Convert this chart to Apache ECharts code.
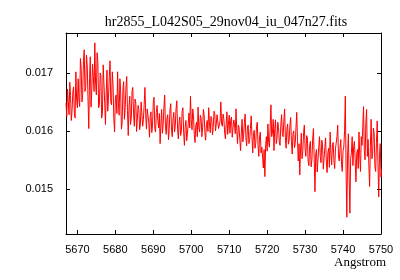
<!DOCTYPE html>
<html lang="en">
<head>
    <meta charset="UTF-8">
    <script src="https://cdn.jsdelivr.net/npm/echarts@6/dist/echarts.min.js"></script>
    <title>spectrum</title>
    <style>
        html, body { margin: 0; padding: 0; background: #fff; }
    </style>
</head>
<body>
<div id="main" style="width: 400px;height: 280px;"></div>
</body>
</html>
<script>
    var chartTitle = 'hr2855_L042S05_29nov04_iu_047n27.fits';
    var xName = 'Angstrom';

    // spectrum sampled every 0.2 A starting at 5667.0
    var wlStart = 5667.0;
    var wlStep = 0.2;
    var flux = [
        0.01648, 0.01625, 0.01672, 0.01651, 0.01628, 0.01684, 0.01661, 0.01618, 0.01635, 0.01667, 0.01676, 0.01631, 0.01622, 0.01702, 0.01655, 0.01640, 0.01690, 0.01655, 0.01642, 0.01725,
        0.01708, 0.01650, 0.01663, 0.01722, 0.01740, 0.01668, 0.01676, 0.01731, 0.01712, 0.01655, 0.01604, 0.01690, 0.01728, 0.01641, 0.01672, 0.01715, 0.01694, 0.01668, 0.01752, 0.01680,
        0.01662, 0.01735, 0.01718, 0.01640, 0.01645, 0.01700, 0.01696, 0.01622, 0.01630, 0.01714, 0.01682, 0.01648, 0.01611, 0.01668, 0.01705, 0.01634, 0.01658, 0.01692, 0.01721, 0.01650,
        0.01645, 0.01702, 0.01680, 0.01621, 0.01598, 0.01655, 0.01662, 0.01630, 0.01702, 0.01648, 0.01627, 0.01690, 0.01669, 0.01603, 0.01614, 0.01672, 0.01685, 0.01620, 0.01640, 0.01676,
        0.01694, 0.01635, 0.01592, 0.01642, 0.01660, 0.01611, 0.01622, 0.01668, 0.01675, 0.01630, 0.01608, 0.01655, 0.01648, 0.01599, 0.01596, 0.01644, 0.01637, 0.01602, 0.01612, 0.01650,
        0.01652, 0.01608, 0.01620, 0.01646, 0.01675, 0.01628, 0.01603, 0.01638, 0.01641, 0.01615, 0.01589, 0.01626, 0.01633, 0.01597, 0.01610, 0.01649, 0.01658, 0.01604, 0.01598, 0.01632,
        0.01644, 0.01618, 0.01605, 0.01630, 0.01578, 0.01612, 0.01637, 0.01596, 0.01612, 0.01641, 0.01662, 0.01608, 0.01594, 0.01622, 0.01628, 0.01585, 0.01603, 0.01636, 0.01647, 0.01601,
        0.01590, 0.01621, 0.01632, 0.01598, 0.01609, 0.01638, 0.01652, 0.01603, 0.01586, 0.01615, 0.01624, 0.01592, 0.01600, 0.01633, 0.01640, 0.01598, 0.01575, 0.01606, 0.01618, 0.01583,
        0.01596, 0.01612, 0.01631, 0.01605, 0.01660, 0.01619, 0.01602, 0.01638, 0.01626, 0.01594, 0.01580, 0.01609, 0.01615, 0.01590, 0.01641, 0.01606, 0.01598, 0.01627, 0.01622, 0.01590,
        0.01605, 0.01637, 0.01628, 0.01596, 0.01584, 0.01611, 0.01618, 0.01599, 0.01640, 0.01614, 0.01597, 0.01625, 0.01621, 0.01593, 0.01606, 0.01634, 0.01630, 0.01600, 0.01612, 0.01628,
        0.01625, 0.01604, 0.01601, 0.01617, 0.01650, 0.01612, 0.01608, 0.01629, 0.01620, 0.01598, 0.01586, 0.01612, 0.01633, 0.01594, 0.01611, 0.01627, 0.01596, 0.01618, 0.01624, 0.01589,
        0.01590, 0.01619, 0.01612, 0.01595, 0.01638, 0.01601, 0.01578, 0.01610, 0.01606, 0.01585, 0.01566, 0.01598, 0.01620, 0.01581, 0.01593, 0.01614, 0.01629, 0.01588, 0.01574, 0.01605,
        0.01610, 0.01578, 0.01585, 0.01604, 0.01626, 0.01590, 0.01562, 0.01596, 0.01601, 0.01570, 0.01579, 0.01608, 0.01615, 0.01575, 0.01556, 0.01590, 0.01598, 0.01562, 0.01572, 0.01555,
        0.01536, 0.01568, 0.01521, 0.01574, 0.01590, 0.01565, 0.01612, 0.01580, 0.01572, 0.01608, 0.01645, 0.01590, 0.01598, 0.01620, 0.01566, 0.01604, 0.01619, 0.01578, 0.01587, 0.01615,
        0.01606, 0.01581, 0.01575, 0.01610, 0.01628, 0.01596, 0.01590, 0.01617, 0.01638, 0.01588, 0.01570, 0.01603, 0.01612, 0.01577, 0.01584, 0.01609, 0.01623, 0.01582, 0.01560, 0.01594,
        0.01600, 0.01571, 0.01578, 0.01606, 0.01632, 0.01583, 0.01548, 0.01578, 0.01524, 0.01567, 0.01596, 0.01552, 0.01565, 0.01597, 0.01610, 0.01569, 0.01556, 0.01592, 0.01588, 0.01548,
        0.01540, 0.01575, 0.01582, 0.01538, 0.01550, 0.01586, 0.01604, 0.01552, 0.01495, 0.01560, 0.01568, 0.01529, 0.01530, 0.01572, 0.01590, 0.01556, 0.01545, 0.01584, 0.01576, 0.01534,
        0.01552, 0.01571, 0.01588, 0.01546, 0.01528, 0.01562, 0.01570, 0.01537, 0.01598, 0.01560, 0.01541, 0.01576, 0.01580, 0.01548, 0.01535, 0.01569, 0.01566, 0.01590, 0.01610, 0.01555,
        0.01548, 0.01570, 0.01585, 0.01542, 0.01530, 0.01566, 0.01572, 0.01600, 0.01660, 0.01530, 0.01451, 0.01560, 0.01595, 0.01520, 0.01458, 0.01552, 0.01562, 0.01590, 0.01540, 0.01573,
        0.01582, 0.01548, 0.01512, 0.01560, 0.01568, 0.01535, 0.01598, 0.01557, 0.01530, 0.01590, 0.01575, 0.01608, 0.01642, 0.01566, 0.01550, 0.01612, 0.01637, 0.01556, 0.01585, 0.01541,
        0.01504, 0.01573, 0.01620, 0.01552, 0.01560, 0.01605, 0.01596, 0.01538, 0.01530, 0.01580, 0.01617, 0.01545, 0.01486, 0.01558, 0.01578, 0.01520, 0.01535
    ];

    var xTicks = [5670, 5680, 5690, 5700, 5710, 5720, 5730, 5740, 5750];
    var yTicks = [0.015, 0.016, 0.017];
    var xMin = 5667, xMax = 5750;
    var yMin = 0.01422, yMax = 0.01769;

    var points = [];
    for (var i = 0; i < flux.length; i++) {
        points.push([wlStart + i * wlStep, flux[i]]);
    }

    var myChart = echarts.init(document.getElementById('main'));

    var labelFont = {color: '#000', fontFamily: 'Liberation Sans', fontSize: 11};
    var frame = {show: true, onZero: false, lineStyle: {color: '#000', width: 1}};

    function xAxisOf(pos, showLabel) {
        return {
            type: 'value', position: pos, min: xMin, max: xMax,
            axisLine: frame,
            axisTick: {show: true, inside: true, length: 4, customValues: xTicks, lineStyle: {color: '#000'}},
            axisLabel: Object.assign({show: showLabel, margin: 10, customValues: xTicks,
                formatter: function (v) { return String(v); }}, labelFont),
            splitLine: {show: false}
        };
    }

    function yAxisOf(pos, showLabel) {
        return {
            type: 'value', position: pos, min: yMin, max: yMax,
            axisLine: frame,
            axisTick: {show: true, inside: true, length: 4, customValues: yTicks, lineStyle: {color: '#000'}},
            axisLabel: Object.assign({show: showLabel, margin: 13, customValues: yTicks,
                formatter: function (v) { return v.toFixed(3); }}, labelFont),
            splitLine: {show: false}
        };
    }

    var option = {
        animation: false,
        title: {
            text: chartTitle,
            left: 221, top: 10, textAlign: 'center',
            textStyle: {color: '#000', fontFamily: 'Liberation Serif', fontSize: 14, fontWeight: 'normal'}
        },
        grid: {left: 66, top: 33, right: 19, bottom: 46},
        xAxis: [xAxisOf('bottom', true), xAxisOf('top', false)],
        yAxis: [yAxisOf('left', true), yAxisOf('right', false)],
        graphic: [{
            type: 'text', right: 14, top: 256,
            style: {text: xName, fill: '#000', font: '13px "Liberation Serif"'}
        }],
        series: [{
            type: 'line',
            xAxisIndex: 0, yAxisIndex: 0,
            data: points,
            showSymbol: false,
            clip: true,
            lineStyle: {color: '#ff0000', width: 1}
        }]
    };

    myChart.setOption(option);
</script>
